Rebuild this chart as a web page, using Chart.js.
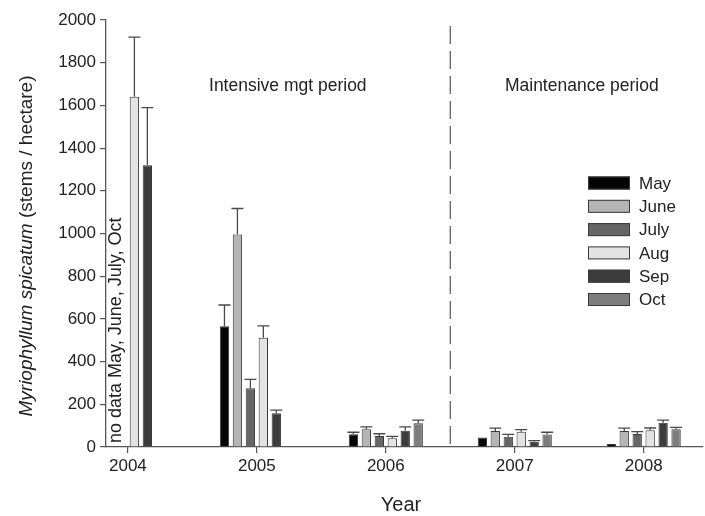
<!DOCTYPE html>
<html>
<head>
<meta charset="utf-8">
<script src="https://cdn.jsdelivr.net/npm/chart.js@4"></script>
<style>
  body { margin: 0; background: #fff; }
  #wrap { width: 705px; height: 516px; }
</style>
</head>
<body>
<div id="wrap"><canvas id="myChart"></canvas></div>
<script>
const years = [2004, 2005, 2006, 2007, 2008];
const yearLabels = ['2004', '2005', '2006', '2007', '2008'];
const yTicks = [0, 200, 400, 600, 800, 1000, 1200, 1400, 1600, 1800, 2000];
const months = ['May', 'June', 'July', 'Aug', 'Sep', 'Oct'];

// mean stems / hectare per month, null = no data
const may  = [null, 565, 60, 44, 14];
const june = [null, 995, 83, 75, 75];
const july = [null, 275, 52, 48, 61];
const aug  = [1640, 512, 41, 72, 78];
const sep  = [1320, 158, 76, 25, 114];
const oct  = [null, null, 111, 59, 83];

// upper error bars
const mayErr  = [null, 100, 9, null, null];
const juneErr = [null, 122, 11, 13, 13];
const julyErr = [null, 42, 10, 11, 11];
const augErr  = [280, 55, 9, 9, 11];
const sepErr  = [270, 15, 18, 5, 12];
const octErr  = [null, null, 15, 10, 9];

const periodBreak = 2006.5;
const periodLabels = ['Intensive mgt period', 'Maintenance period'];
const noDataNote = 'no data May, June, July, Oct';

const colors = ['#050505', '#b5b5b5', '#666666', '#e3e3e3', '#3c3c3c', '#7d7d7d'];
const series = [may, june, july, aug, sep, oct];
const errors = [mayErr, juneErr, julyErr, augErr, sepErr, octErr];

const FONT = '"Liberation Sans", Arial, sans-serif';
const TEXT = '#222';

const datasets = series.map((vals, i) => ({
  label: months[i],
  data: years.map((yr, j) => ({ x: yr, y: vals[j] })),
  backgroundColor: colors[i],
  borderColor: '#3a3a3a',
  borderWidth: 1,
  categoryPercentage: 0.603,
  barPercentage: 0.72
}));

// error bars, dashed divider, notes, legend and y title
const extras = {
  id: 'extras',
  afterDatasetsDraw(chart) {
    const ctx = chart.ctx;
    const ys = chart.scales.y;
    ctx.save();
    ctx.strokeStyle = '#4a4a4a';
    ctx.lineWidth = 1.3;
    chart.data.datasets.forEach((ds, i) => {
      const meta = chart.getDatasetMeta(i);
      meta.data.forEach((bar, j) => {
        const v = series[i][j];
        const e = errors[i][j];
        if (v == null || e == null) return;
        const top = ys.getPixelForValue(v + e);
        ctx.beginPath();
        ctx.moveTo(bar.x, bar.y);
        ctx.lineTo(bar.x, top);
        ctx.moveTo(bar.x - 6, top);
        ctx.lineTo(bar.x + 6, top);
        ctx.stroke();
      });
    });
    ctx.restore();
  },
  afterDraw(chart) {
    const ctx = chart.ctx;
    const xs = chart.scales.x;
    const ys = chart.scales.y;
    const area = chart.chartArea;
    ctx.save();

    // period divider
    const bx = xs.getPixelForValue(periodBreak);
    ctx.strokeStyle = '#555';
    ctx.lineWidth = 1.2;
    ctx.setLineDash([18, 7]);
    ctx.beginPath();
    ctx.moveTo(bx, area.top + 6);
    ctx.lineTo(bx, area.bottom);
    ctx.stroke();
    ctx.setLineDash([]);

    ctx.fillStyle = TEXT;
    ctx.font = '17.5px ' + FONT;
    ctx.textAlign = 'center';
    ctx.textBaseline = 'middle';
    const ly = ys.getPixelForValue(1690);
    ctx.fillText(periodLabels[0], xs.getPixelForValue(2005.24), ly);
    ctx.fillText(periodLabels[1], xs.getPixelForValue(2007.52), ly);

    // no-data note, rotated
    ctx.save();
    ctx.translate(area.left + 10, area.bottom - 4);
    ctx.rotate(-Math.PI / 2);
    ctx.textAlign = 'left';
    ctx.font = '18px ' + FONT;
    ctx.fillText(noDataNote, 0, 0);
    ctx.restore();

    // legend
    ctx.font = '17px ' + FONT;
    ctx.textAlign = 'left';
    months.forEach((m, i) => {
      const cy = 183 + i * 23.3;
      ctx.fillStyle = colors[i];
      ctx.fillRect(588, cy - 6.5, 42, 13);
      ctx.strokeStyle = '#3a3a3a';
      ctx.lineWidth = 1;
      ctx.strokeRect(588.5, cy - 6, 41, 12);
      ctx.fillStyle = TEXT;
      ctx.fillText(m, 639, cy + 1);
    });

    // y title: italic species name + plain units
    ctx.save();
    ctx.translate(27, 246);
    ctx.rotate(-Math.PI / 2);
    const part1 = 'Myriophyllum spicatum ';
    const part2 = '(stems / hectare)';
    ctx.font = 'italic 19px ' + FONT;
    const w1 = ctx.measureText(part1).width;
    ctx.font = '19px ' + FONT;
    const w2 = ctx.measureText(part2).width;
    const start = -(w1 + w2) / 2;
    ctx.textAlign = 'left';
    ctx.font = 'italic 19px ' + FONT;
    ctx.fillText(part1, start, 0);
    ctx.font = '19px ' + FONT;
    ctx.fillText(part2, start + w1, 0);
    ctx.restore();

    // x title
    ctx.font = '20px ' + FONT;
    ctx.textAlign = 'center';
    ctx.fillText('Year', 401, 505);

    ctx.restore();
  }
};

const ctx = document.getElementById('myChart').getContext('2d');
const chart = new Chart(ctx, {
  type: 'bar',
  data: { datasets: datasets },
  options: {
    responsive: true,
    maintainAspectRatio: false,
    animation: false,
    layout: { padding: { top: 20, right: 2, left: 0, bottom: 0 } },
    plugins: {
      legend: { display: false },
      tooltip: { enabled: false }
    },
    scales: {
      x: {
        type: 'linear',
        min: 2003.83,
        max: 2008.46,
        offset: false,
        afterBuildTicks: s => { s.ticks = years.map(v => ({ value: v })); },
        afterFit: s => { s.height = 69; },
        ticks: {
          callback: v => yearLabels[years.indexOf(v)],
          color: TEXT,
          font: { family: FONT, size: 17 },
          padding: 3,
          maxRotation: 0,
          autoSkip: false
        },
        grid: { offset: false, drawOnChartArea: false, tickLength: 6, color: '#555', lineWidth: 1.2 },
        border: { color: '#555', width: 1.3 }
      },
      y: {
        min: 0,
        max: 2000,
        afterBuildTicks: s => { s.ticks = yTicks.map(v => ({ value: v })); },
        afterFit: s => { s.width = 106; },
        ticks: {
          callback: v => String(v),
          color: TEXT,
          font: { family: FONT, size: 17 },
          padding: 4
        },
        grid: { drawOnChartArea: false, tickLength: 6, color: '#555', lineWidth: 1.2 },
        border: { color: '#555', width: 1.3 }
      }
    }
  },
  plugins: [extras]
});
</script>
</body>
</html>
